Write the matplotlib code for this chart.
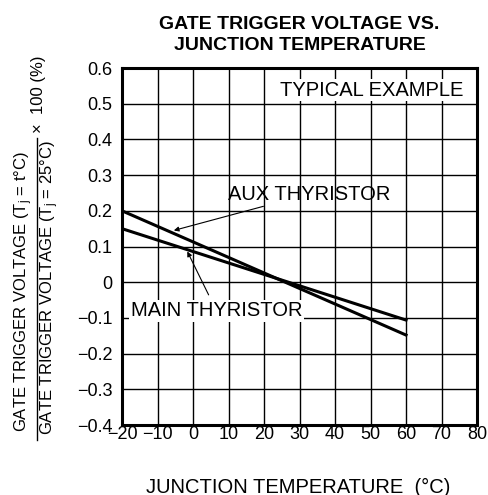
import numpy as np
import matplotlib
matplotlib.use('Agg')
import matplotlib.pyplot as plt

plt.rcParams['font.family'] = ['Liberation Sans', 'DejaVu Sans']
plt.rcParams['mathtext.fontset'] = 'custom'
plt.rcParams['mathtext.rm'] = 'Liberation Sans'
plt.rcParams['mathtext.it'] = 'Liberation Sans'

# Datos
temp = [-20, 60]
aux_thyristor = [0.20, -0.148]
main_thyristor = [0.15, -0.106]

x_ticks = [-20, -10, 0, 10, 20, 30, 40, 50, 60, 70, 80]
y_ticks = [-0.4, -0.3, -0.2, -0.1, 0, 0.1, 0.2, 0.3, 0.4, 0.5, 0.6]
y_tick_labels = ['\u22120.4', '\u22120.3', '\u22120.2', '\u22120.1', '0', '0.1', '0.2', '0.3', '0.4', '0.5', '0.6']

fig = plt.figure(figsize=(4.89, 4.95), dpi=100)
ax = fig.add_axes([0.2495, 0.1414, 0.7260, 0.7212])

ax.plot(temp, aux_thyristor, color='black', linewidth=2.2, zorder=3)
ax.plot(temp, main_thyristor, color='black', linewidth=2.2, zorder=3)

ax.set_xlim(-20, 80)
ax.set_ylim(-0.4, 0.6)
ax.set_xticks(x_ticks)
ax.set_xticklabels([str(t).replace('-', '\u2212') for t in x_ticks])
ax.set_yticks(y_ticks)
ax.set_yticklabels(y_tick_labels)
ax.tick_params(length=0, labelsize=13, pad=1)
ax.tick_params(axis='y', pad=7)
ax.grid(True, color='black', linewidth=1.0)
for s in ax.spines.values():
    s.set_linewidth(2.2)

# Etiquetas
ax.text(50.2, 0.538, 'TYPICAL EXAMPLE', fontsize=14.5, ha='center', va='center',
        bbox=dict(facecolor='white', edgecolor='none', pad=1), zorder=4)
ax.annotate('AUX THYRISTOR', xy=(-5.4, 0.145), xytext=(9.8, 0.247),
            fontsize=14.5, ha='left', va='center',
            arrowprops=dict(arrowstyle='-|>', color='black', lw=0.8, mutation_scale=7,
                            shrinkA=0, shrinkB=0), zorder=4)
ax.annotate('MAIN THYRISTOR', xy=(-1.6, 0.086), xytext=(6.6, -0.08),
            fontsize=14.5, ha='center', va='center',
            bbox=dict(facecolor='white', edgecolor='none', pad=1),
            arrowprops=dict(arrowstyle='-|>', color='black', lw=0.8, mutation_scale=7,
                            shrinkA=4, shrinkB=0), zorder=4)

fig.text(0.6125, 1 - 35 / 495, 'GATE TRIGGER VOLTAGE VS.\nJUNCTION TEMPERATURE', fontsize=14,
         fontweight='bold', ha='center', va='center', linespacing=1.3)
fig.text(0.609, 1 - 487 / 495, 'JUNCTION TEMPERATURE  (\u00b0C)', fontsize=14.5,
         ha='center', va='center')

# Etiqueta del eje Y como fraccion
fig.text(35.5 / 489, 1 - 291 / 495, 'GATE TRIGGER VOLTAGE (T$_\\mathrm{j}$ = t\u00b0C)',
         fontsize=12, rotation=90, ha='right', va='center')
fig.text(38.5 / 489, 1 - 288 / 495, 'GATE TRIGGER VOLTAGE (T$_\\mathrm{j}$ = 25\u00b0C)',
         fontsize=12, rotation=90, ha='left', va='center')
fig.add_artist(plt.Line2D([37 / 489, 37 / 489], [1 - 440 / 495, 1 - 138 / 495],
                          color='black', linewidth=1.0, transform=fig.transFigure))
fig.text(38 / 489, 1 - 94 / 495, '\u00d7  100 (%)', fontsize=12, rotation=90,
         ha='center', va='center')

plt.savefig('out.png', dpi=100)
